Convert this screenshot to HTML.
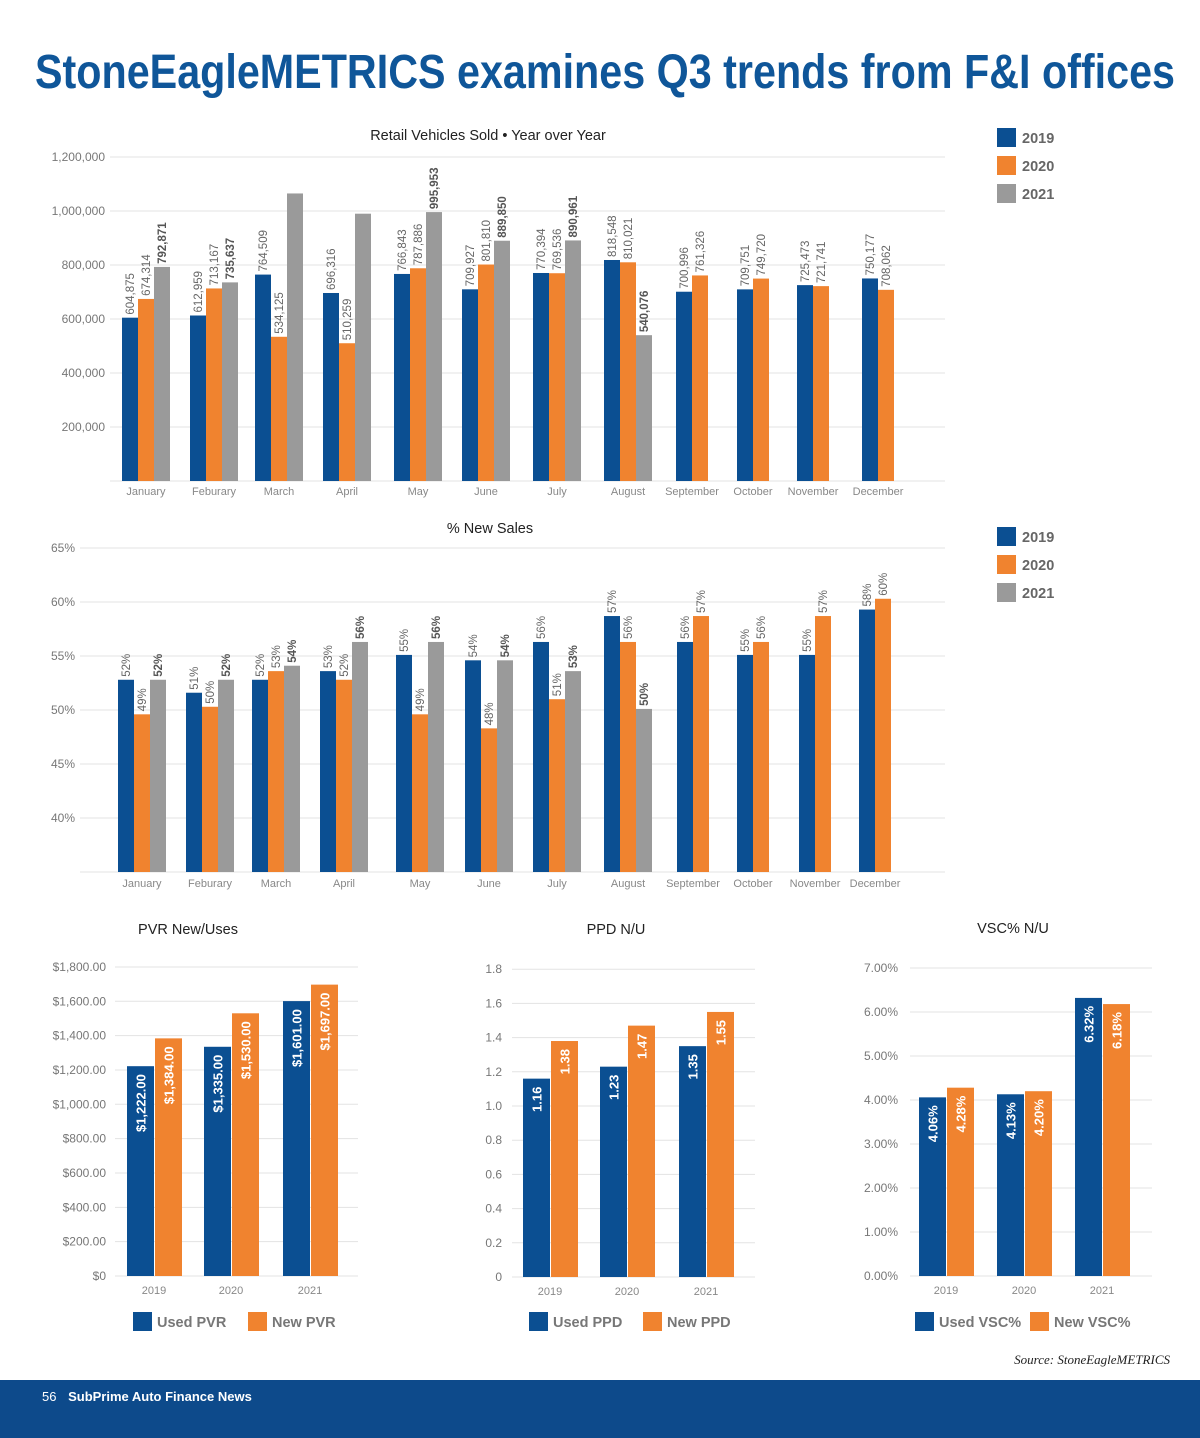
<!DOCTYPE html>
<html><head><meta charset="utf-8">
<style>
body{margin:0;background:#fff;}
svg{display:block;font-family:"Liberation Sans",Arial,sans-serif;}
</style></head>
<body>
<svg id="s" width="1200" height="1438" viewBox="0 0 1200 1438" xmlns="http://www.w3.org/2000/svg">
<text x="35" y="88" font-size="48" font-weight="bold" fill="#0f5699" textLength="1140" lengthAdjust="spacingAndGlyphs">StoneEagleMETRICS examines Q3 trends from F&amp;I offices</text>
<text x="488" y="140" font-size="14.5" text-anchor="middle" fill="#222">Retail Vehicles Sold • Year over Year</text>
<text x="490" y="533" font-size="14.5" text-anchor="middle" fill="#222">% New Sales</text>
<text x="188" y="934" font-size="14.5" text-anchor="middle" fill="#222">PVR New/Uses</text>
<text x="616" y="934" font-size="14.5" text-anchor="middle" fill="#222">PPD N/U</text>
<text x="1013" y="933" font-size="14.5" text-anchor="middle" fill="#222">VSC% N/U</text>
<text x="1170" y="1364" font-size="13" font-style="italic" text-anchor="end" fill="#222" font-family="Liberation Serif,serif">Source: StoneEagleMETRICS</text>
<rect x="0" y="1380" width="1200" height="58" fill="#0d4a8b"/>
<text x="42" y="1401" font-size="13" fill="#fff">56 <tspan dx="8" font-weight="bold">SubPrime Auto Finance News</tspan></text>
</svg>
<script>
const months=["January","Feburary","March","April","May","June","July","August","September","October","November","December"];
const retail2019=[604875,612959,764509,696316,766843,709927,770394,818548,700996,709751,725473,750177];
const retail2020=[674314,713167,534125,510259,787886,801810,769536,810021,761326,749720,721741,708062];
const retail2021=[792871,735637,1065000,990000,995953,889850,890961,540076];
const retail2021Labels=["792,871","735,637","","","995,953","889,850","890,961","540,076"];
const retailTicks=[200000,400000,600000,800000,1000000,1200000];
const pct2019=[52.8,51.6,52.8,53.6,55.1,54.6,56.3,58.7,56.3,55.1,55.1,59.3];
const pct2020=[49.6,50.3,53.6,52.8,49.6,48.3,51.0,56.3,58.7,56.3,58.7,60.3];
const pct2021=[52.8,52.8,54.1,56.3,56.3,54.6,53.6,50.1];
const pct2019Labels=["52%","51%","52%","53%","55%","54%","56%","57%","56%","55%","55%","58%"];
const pct2020Labels=["49%","50%","53%","52%","49%","48%","51%","56%","57%","56%","57%","60%"];
const pct2021Labels=["52%","52%","54%","56%","56%","54%","53%","50%"];
const pctTicks=[40,45,50,55,60,65];
const years=["2019","2020","2021"];
const pvrUsed=[1222,1335,1601];
const pvrNew=[1384,1530,1697];
const pvrTicks=[0,200,400,600,800,1000,1200,1400,1600,1800];
const ppdUsed=[1.16,1.23,1.35];
const ppdNew=[1.38,1.47,1.55];
const ppdTicks=[0,0.2,0.4,0.6,0.8,1.0,1.2,1.4,1.6,1.8];
const vscUsed=[4.06,4.13,6.32];
const vscNew=[4.28,4.20,6.18];
const vscTicks=[0,1,2,3,4,5,6,7];

const S=document.getElementById('s');
const NS="http://www.w3.org/2000/svg";
const BLUE="#0b4f92",ORANGE="#f0832f",GRAY="#9a9a9a";
function mk(tag,attrs,txt){const e=document.createElementNS(NS,tag);for(const k in attrs)e.setAttribute(k,attrs[k]);if(txt!==undefined)e.textContent=txt;S.appendChild(e);return e;}

// ---- Chart 1 ----
const y1=v=>481-v*0.00027;
const c1=[146,214,279,347,418,486,557,628,692,753,813,878];
[0].concat(retailTicks).forEach(t=>{
 const g=mk('line',{x1:110,x2:945,y1:y1(t),y2:y1(t),stroke:'#e3e3e3','stroke-width':1});
 
 if(t>0){const l=mk('text',{x:105,y:y1(t)+4,'font-size':12,fill:'#777','text-anchor':'end'},t.toLocaleString('en-US'));
 }
});
function vbar(x,w,v,ys,base,color,label,bold,name){
 const r=mk('rect',{x:x,y:ys(v),width:w,height:ys(base)-ys(v),fill:color});
 
 if(label){const cx=x+w/2+4,ty=ys(v)-3;
  const t=mk('text',{x:cx,y:ty,'font-size':11.5,fill:bold?'#555':'#666','font-weight':bold?'bold':'normal',transform:`rotate(-90 ${cx} ${ty})`},label);
  }
}
months.forEach((m,i)=>{
 const has3=i<retail2021.length;const w=16;const x0=c1[i]-(has3?24:16);
 vbar(x0,w,retail2019[i],y1,0,BLUE,retail2019[i].toLocaleString('en-US'),false,'retail-bar-2019');
 vbar(x0+w,w,retail2020[i],y1,0,ORANGE,retail2020[i].toLocaleString('en-US'),false,'retail-bar-2020');
 if(has3)vbar(x0+2*w,w,retail2021[i],y1,0,GRAY,retail2021Labels[i],true,'retail-bar-2021');
 const t=mk('text',{x:c1[i],y:495,'font-size':11,fill:'#888','text-anchor':'middle'},m);
 
});

// ---- Chart 2 ----
const y2=v=>872-(v-35)*10.8;
const c2=[142,210,276,344,420,489,557,628,693,753,815,875];
[35].concat(pctTicks).forEach(t=>{
 const g=mk('line',{x1:80,x2:945,y1:y2(t),y2:y2(t),stroke:'#e3e3e3','stroke-width':1});
 
 if(t>35){const l=mk('text',{x:75,y:y2(t)+4,'font-size':12,fill:'#777','text-anchor':'end'},t+'%');
 }
});
months.forEach((m,i)=>{
 const has3=i<pct2021.length;const w=16;const x0=c2[i]-(has3?24:16);
 vbar(x0,w,pct2019[i],y2,35,BLUE,pct2019Labels[i],false,'pct-bar-2019');
 vbar(x0+w,w,pct2020[i],y2,35,ORANGE,pct2020Labels[i],false,'pct-bar-2020');
 if(has3)vbar(x0+2*w,w,pct2021[i],y2,35,GRAY,pct2021Labels[i],true,'pct-bar-2021');
 const t=mk('text',{x:c2[i],y:887,'font-size':11,fill:'#888','text-anchor':'middle'},m);
 
});

// legends top
function legendTop(y0,pre){
 [[BLUE,"2019"],[ORANGE,"2020"],[GRAY,"2021"]].forEach((d,i)=>{
  const r=mk('rect',{x:997,y:y0+i*28,width:19,height:19,fill:d[0]});
  
  const t=mk('text',{x:1022,y:y0+i*28+15,'font-size':14.5,'font-weight':'bold',fill:'#666'},d[1]);
  
 });
}
legendTop(128,'retail');legendTop(527,'pct');

// ---- bottom charts ----
function small(pre,used,neu,ticks,fmtTick,fmtVal,y0,pxPer,gx1,gx2,tickX,centers,leg){
 const ys=v=>y0-v*pxPer;
 ticks.forEach(t=>{
  const g=mk('line',{x1:gx1,x2:gx2,y1:ys(t),y2:ys(t),stroke:'#e3e3e3','stroke-width':1});
  
  const l=mk('text',{x:tickX,y:ys(t)+4,'font-size':12,fill:'#777','text-anchor':'end'},fmtTick(t));
  
 });
 years.forEach((yr,i)=>{
  [[used[i],BLUE,centers[i]-27,'used'],[neu[i],ORANGE,centers[i]+1,'new']].forEach(b=>{
   const r=mk('rect',{x:b[2],y:ys(b[0]),width:27,height:ys(0)-ys(b[0]),fill:b[1]});
   
   const cx=b[2]+13.5+5,ty=ys(b[0])+8;
   const t=mk('text',{x:cx,y:ty,'font-size':13,'font-weight':'bold',fill:'#fff','text-anchor':'end',transform:`rotate(-90 ${cx} ${ty})`},fmtVal(b[0]));
   
  });
  const t=mk('text',{x:centers[i],y:y0+18,'font-size':11,fill:'#888','text-anchor':'middle'},yr);
  
 });
 leg.forEach(l=>{
  const r=mk('rect',{x:l[0],y:1312,width:19,height:19,fill:l[1]});
  
  const t=mk('text',{x:l[0]+24,y:1327,'font-size':14.5,'font-weight':'bold',fill:'#777'},l[2]);
  
 });
}
const money=v=>'$'+v.toLocaleString('en-US',{minimumFractionDigits:2,maximumFractionDigits:2});
small('pvr',pvrUsed,pvrNew,pvrTicks,t=>t===0?'$0':money(t),v=>money(v),1276,0.1717,115,358,106,[154,231,310],[[133,BLUE,'Used PVR'],[248,ORANGE,'New PVR']]);
small('ppd',ppdUsed,ppdNew,ppdTicks,t=>t===0?'0':t.toFixed(1),v=>v.toFixed(2),1277,171,512,755,502,[550,627,706],[[529,BLUE,'Used PPD'],[643,ORANGE,'New PPD']]);
small('vsc',vscUsed,vscNew,vscTicks,t=>t.toFixed(2)+'%',v=>v.toFixed(2)+'%',1276,44,910,1152,898,[946,1024,1102],[[915,BLUE,'Used VSC%'],[1030,ORANGE,'New VSC%']]);
</script>
</body></html>
